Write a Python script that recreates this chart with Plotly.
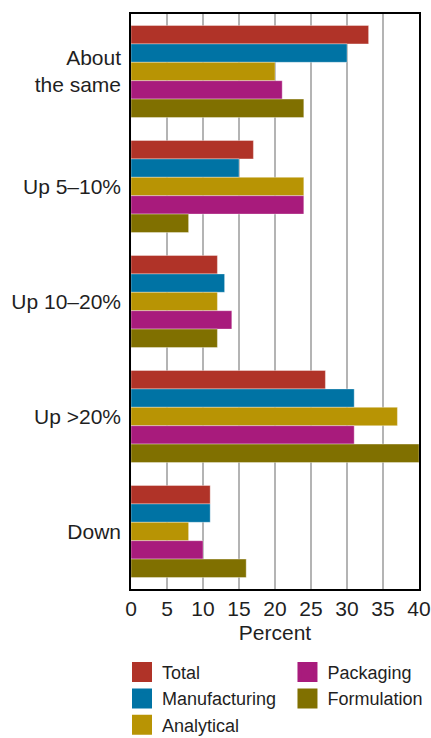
import plotly.graph_objects as go

categories = ["About<br>the same", "Up 5–10%", "Up 10–20%", "Up >20%", "Down"]
series_names = ["Total", "Manufacturing", "Analytical", "Packaging", "Formulation"]
total = [33, 17, 12, 27, 11]
manufacturing = [30, 15, 13, 31, 11]
analytical = [20, 24, 12, 37, 8]
packaging = [21, 24, 14, 31, 10]
formulation = [24, 8, 12, 40, 16]
x_ticks = [0, 5, 10, 15, 20, 25, 30, 35, 40]

series_values = [total, manufacturing, analytical, packaging, formulation]
colors = ["#b03328", "#0073a4", "#b89404", "#a81b7c", "#807000"]
legend_ids = ["legend", "legend", "legend", "legend2", "legend2"]

fig = go.Figure()
for name, vals, col in zip(series_names, series_values, colors):
    fig.add_trace(go.Bar(
        y=categories, x=vals, name=name, orientation="h",
        marker=dict(color=col, line=dict(color="rgba(255,255,255,0.35)", width=1)),
        showlegend=False,
    ))
for name, col, lg in zip(series_names, colors, legend_ids):
    fig.add_trace(go.Scatter(
        x=[None], y=[None], mode="markers", name=name, legend=lg,
        marker=dict(symbol="square", size=16, color=col, line=dict(color=col, width=4)),
    ))

font = "Liberation Sans, Arial, sans-serif"
fig.update_layout(
    width=431, height=738,
    margin=dict(l=131, r=12, t=14, b=149, autoexpand=False),
    paper_bgcolor="white", plot_bgcolor="white",
    barmode="group", bargap=0.2, bargroupgap=0,
    font=dict(family=font, size=21, color="#1f1f1f"),
    legend=dict(xref="container", yref="container", x=0.283, y=0.114,
                xanchor="left", yanchor="top",
                font=dict(size=18), tracegroupgap=0, bgcolor="rgba(0,0,0,0)"),
    legend2=dict(xref="container", yref="container", x=0.667, y=0.114,
                 xanchor="left", yanchor="top",
                 font=dict(size=18), tracegroupgap=0, bgcolor="rgba(0,0,0,0)"),
    xaxis=dict(range=[0, 40], tickvals=x_ticks, ticktext=[str(v) for v in x_ticks],
               showgrid=True, gridcolor="#b4b4b4", gridwidth=1.5,
               showline=True, linecolor="black", linewidth=1.5, mirror=True,
               ticks="", zeroline=False, automargin=False,
               title=dict(text="Percent", font=dict(size=21), standoff=6),
               tickfont=dict(size=21)),
    yaxis=dict(autorange="reversed", showline=True, linecolor="black", linewidth=1.5,
               mirror=True, ticks="", showgrid=False, ticklabelstandoff=4,
               automargin=False, tickfont=dict(size=21)),
)

fig.write_html("out.html", config={"displayModeBar": False},
               post_script="document.body.style.margin='0';document.body.style.overflow='hidden';")
